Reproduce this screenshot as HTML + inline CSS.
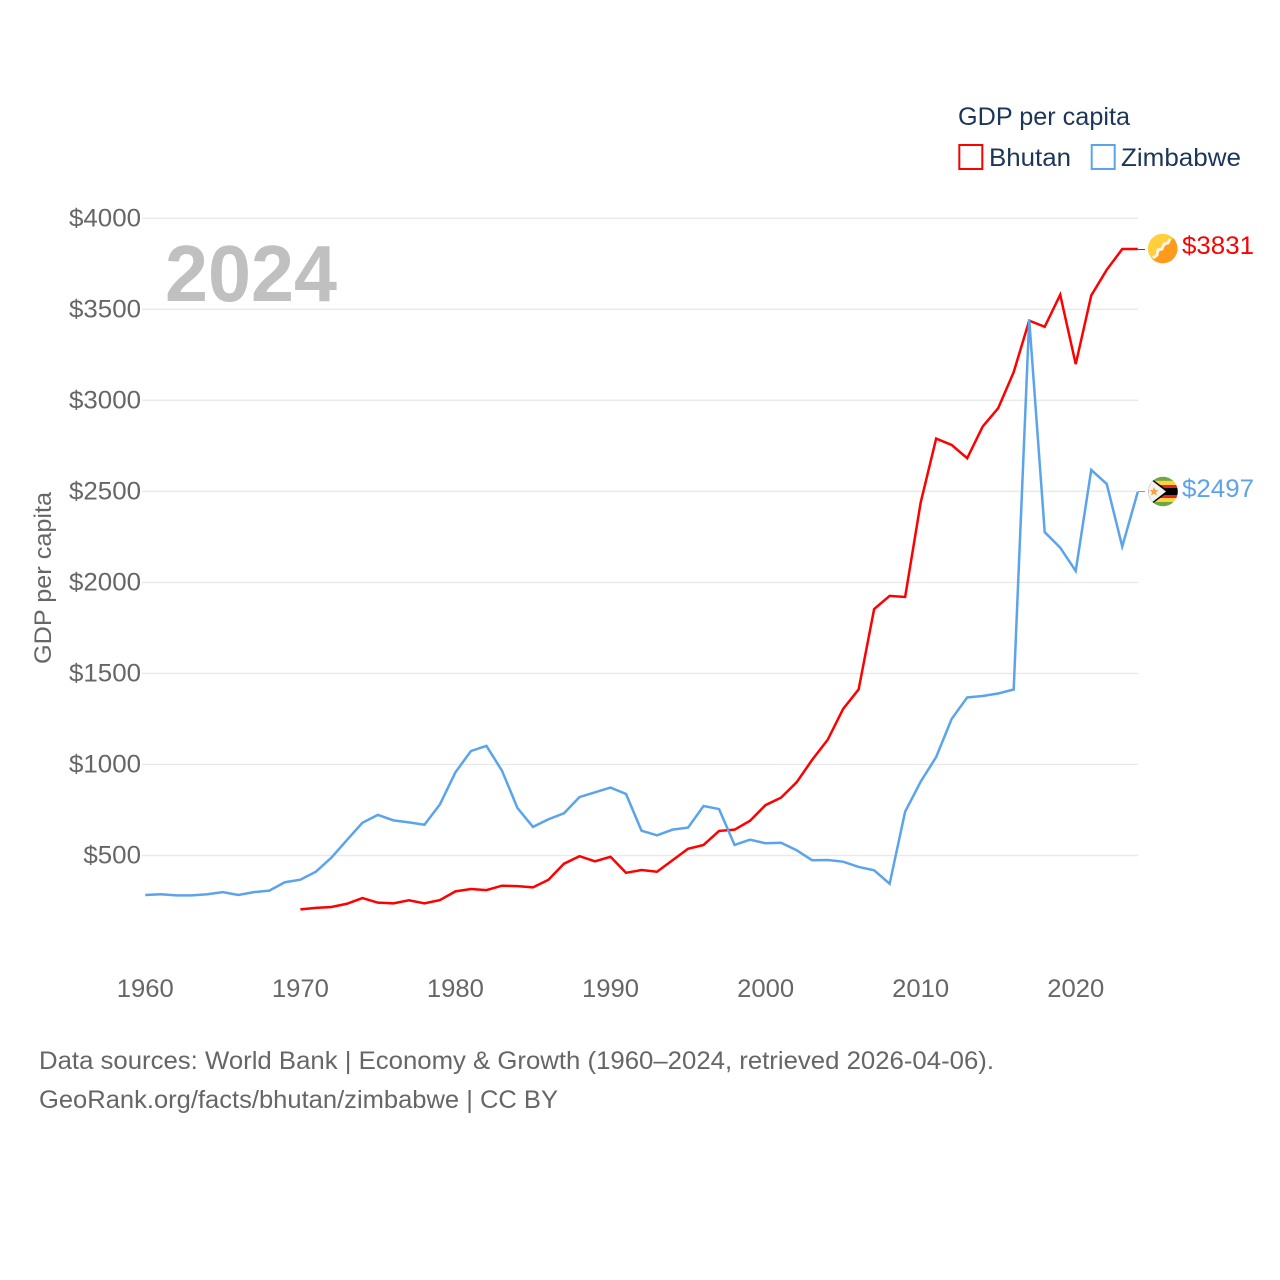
<!DOCTYPE html>
<html lang="en">
<head>
<meta charset="utf-8">
<title>GDP per capita: Bhutan and Zimbabwe</title>
<style>
html,body{margin:0;padding:0;background:#fff;}
svg{display:block;font-family:"Liberation Sans",sans-serif;}
</style>
</head>
<body>
<svg id="chart" xmlns="http://www.w3.org/2000/svg" width="1280" height="1280" viewBox="0 0 1280 1280">
  <defs>
    <clipPath id="clip-bt"><circle cx="1162.7" cy="248.5" r="14.8"/></clipPath>
    <clipPath id="clip-zw"><circle cx="1163" cy="491.5" r="14.8"/></clipPath>
  </defs>
  <g id="grid"></g>
  <g id="yticks"></g>
  <g id="xticks"></g>
  <text transform="translate(51,578) rotate(-90)" text-anchor="middle" font-size="24" fill="#666666" textLength="172" lengthAdjust="spacingAndGlyphs">GDP per capita</text>
  <text x="165" y="301" font-size="80" font-weight="700" fill="#c0c0c0" textLength="172" lengthAdjust="spacingAndGlyphs">2024</text>
  <g id="series"></g>

  <g clip-path="url(#clip-bt)">
    <rect x="1147" y="233" width="32" height="32" fill="#ffd03c"/>
    <polygon points="1148,263.3 1178,233.3 1178,264 1148,264" fill="#ff9b1c"/>
    <path d="M1153,258 L1157,255 L1158,250 L1162,249 L1164,244 L1168,243 L1170,239" fill="none" stroke="#fff3e8" stroke-width="3"/>
  </g>
  <g clip-path="url(#clip-zw)">
    <rect x="1148" y="476.5" width="30" height="5" fill="#6aa842"/>
    <rect x="1148" y="480.8" width="30" height="4.3" fill="#fcd33d"/>
    <rect x="1148" y="485" width="30" height="3.2" fill="#e3242b"/>
    <rect x="1148" y="488" width="30" height="7" fill="#000000"/>
    <rect x="1148" y="495" width="30" height="3.2" fill="#e3242b"/>
    <rect x="1148" y="498" width="30" height="4.2" fill="#fcd33d"/>
    <rect x="1148" y="502" width="30" height="5" fill="#6aa842"/>
    <polygon points="1148,476 1148,507 1169,491.5" fill="#000000"/>
    <polygon points="1148,477.5 1148,505.5 1166,491.5" fill="#f2f2f2"/>
    <polygon points="1154,487 1155.3,490 1158.5,490.2 1156,492.3 1157,495.5 1154,493.7 1151,495.5 1152,492.3 1149.5,490.2 1152.7,490" fill="#f9a23c"/>
  </g>
  <text x="1182" y="254" font-size="25" fill="#ff0000" textLength="72" lengthAdjust="spacingAndGlyphs">$3831</text>
  <text x="1182" y="497" font-size="25" fill="#5ba4ec" textLength="72" lengthAdjust="spacingAndGlyphs">$2497</text>

  <text x="958" y="125" font-size="25" fill="#1b3658" textLength="172" lengthAdjust="spacingAndGlyphs">GDP per capita</text>
  <rect x="959.3" y="145" width="23" height="24" fill="#fff" stroke="#ff0000" stroke-width="2"/>
  <text x="989" y="166" font-size="25" fill="#1b3658" textLength="82" lengthAdjust="spacingAndGlyphs">Bhutan</text>
  <rect x="1091.7" y="145" width="23" height="24" fill="#fff" stroke="#5ba4ec" stroke-width="2"/>
  <text x="1121" y="166" font-size="25" fill="#1b3658" textLength="120" lengthAdjust="spacingAndGlyphs">Zimbabwe</text>

  <text x="39" y="1069" font-size="25" fill="#666666" textLength="955" lengthAdjust="spacingAndGlyphs">Data sources: World Bank | Economy &amp; Growth (1960–2024, retrieved 2026-04-06).</text>
  <text x="39" y="1108" font-size="25" fill="#666666" textLength="519" lengthAdjust="spacingAndGlyphs">GeoRank.org/facts/bhutan/zimbabwe | CC BY</text>
</svg>
<script>
const firstYear = 1960;
const yTickValues = [500, 1000, 1500, 2000, 2500, 3000, 3500, 4000];
const yTickLabels = ["$500", "$1000", "$1500", "$2000", "$2500", "$3000", "$3500", "$4000"];
const xTickValues = [1960, 1970, 1980, 1990, 2000, 2010, 2020];
const xTickLabels = ["1960", "1970", "1980", "1990", "2000", "2010", "2020"];
const zimbabweValues = [283, 287, 281, 281, 287, 299, 283, 299, 307, 353,
  367, 411, 488, 585, 680, 723, 693, 682, 669, 781,
  957, 1074, 1102, 966, 761, 657, 699, 732, 821, 847,
  873, 838, 636, 611, 642, 653, 772, 755, 558, 587,
  567, 570, 529, 474, 475, 466, 437, 419, 345, 741,
  905, 1041, 1250, 1368, 1376, 1390, 1412, 3445, 2276, 2191,
  2063, 2618, 2541, 2197, 2497];
const bhutanValues = [null, null, null, null, null, null, null, null, null, null,
  204, 212, 217, 235, 266, 241, 237, 254, 237, 255,
  303, 316, 310, 334, 332, 325, 367, 455, 496, 468,
  493, 405, 420, 411, 474, 537, 558, 635, 642, 691,
  777, 818, 902, 1025, 1135, 1305, 1412, 1854, 1926, 1920,
  2438, 2790, 2755, 2682, 2856, 2957, 3155, 3438, 3404, 3580,
  3199, 3576, 3717, 3831, 3831];

const NS = "http://www.w3.org/2000/svg";
const xScale = function (year) { return 145.3 + (year - 1960) * 15.507; };
const yScale = function (value) { return 946.53 - value * 0.18206; };

function make(tag, parent) {
  const el = document.createElementNS(NS, tag);
  parent.appendChild(el);
  return el;
}

const gridGroup = document.getElementById("grid");
const yGroup = document.getElementById("yticks");
yTickValues.forEach(function (value, i) {
  const line = make("line", gridGroup);
  
  
  line.setAttribute("x1", 142);
  line.setAttribute("x2", 1138);
  line.setAttribute("y1", yScale(value));
  line.setAttribute("y2", yScale(value));
  line.setAttribute("stroke", "#e9e9e9");
  line.setAttribute("stroke-width", 1.4);
  const label = make("text", yGroup);
  
  
  label.setAttribute("x", 141);
  label.setAttribute("y", yScale(value) + 8);
  label.setAttribute("text-anchor", "end");
  label.setAttribute("font-size", 25);
  label.setAttribute("fill", "#666666");
  label.setAttribute("textLength", yTickLabels[i].length * 14.4);
  label.setAttribute("lengthAdjust", "spacingAndGlyphs");
  label.textContent = yTickLabels[i];
});

const xGroup = document.getElementById("xticks");
xTickValues.forEach(function (year, i) {
  const label = make("text", xGroup);
  
  
  label.setAttribute("x", xScale(year));
  label.setAttribute("y", 997);
  label.setAttribute("text-anchor", "middle");
  label.setAttribute("font-size", 25);
  label.setAttribute("fill", "#666666");
  label.setAttribute("textLength", 57);
  label.setAttribute("lengthAdjust", "spacingAndGlyphs");
  label.textContent = xTickLabels[i];
});

function pathFor(values) {
  let d = "";
  values.forEach(function (value, i) {
    if (value === null) { return; }
    d += (d === "" ? "M" : "L") + xScale(firstYear + i).toFixed(2) + "," + yScale(value).toFixed(2);
  });
  return d;
}

const seriesGroup = document.getElementById("series");

const zimbabweLine = make("path", seriesGroup);


zimbabweLine.setAttribute("d", pathFor(zimbabweValues));
zimbabweLine.setAttribute("fill", "none");
zimbabweLine.setAttribute("stroke", "#5ba4ec");
zimbabweLine.setAttribute("stroke-width", 2.5);
zimbabweLine.setAttribute("stroke-linejoin", "miter");

const bhutanLine = make("path", seriesGroup);


bhutanLine.setAttribute("d", pathFor(bhutanValues));
bhutanLine.setAttribute("fill", "none");
bhutanLine.setAttribute("stroke", "#ff0000");
bhutanLine.setAttribute("stroke-width", 2.5);
bhutanLine.setAttribute("stroke-linejoin", "miter");

/* the Zimbabwe spike sits above the Bhutan line at 2017 */
seriesGroup.appendChild(zimbabweLine);

const lastIndex = zimbabweValues.length - 1;

const bhutanLeader = make("line", seriesGroup);


bhutanLeader.setAttribute("x1", xScale(firstYear + lastIndex));
bhutanLeader.setAttribute("x2", 1145);
bhutanLeader.setAttribute("y1", Math.floor(yScale(bhutanValues[lastIndex])) + 0.5);
bhutanLeader.setAttribute("y2", Math.floor(yScale(bhutanValues[lastIndex])) + 0.5);
bhutanLeader.setAttribute("stroke", "#ff0000");
bhutanLeader.setAttribute("stroke-width", 1);

const zimbabweLeader = make("line", seriesGroup);


zimbabweLeader.setAttribute("x1", xScale(firstYear + lastIndex));
zimbabweLeader.setAttribute("x2", 1145);
zimbabweLeader.setAttribute("y1", Math.floor(yScale(zimbabweValues[lastIndex])) + 0.5);
zimbabweLeader.setAttribute("y2", Math.floor(yScale(zimbabweValues[lastIndex])) + 0.5);
zimbabweLeader.setAttribute("stroke", "#5ba4ec");
zimbabweLeader.setAttribute("stroke-width", 1);
</script>
</body>
</html>
